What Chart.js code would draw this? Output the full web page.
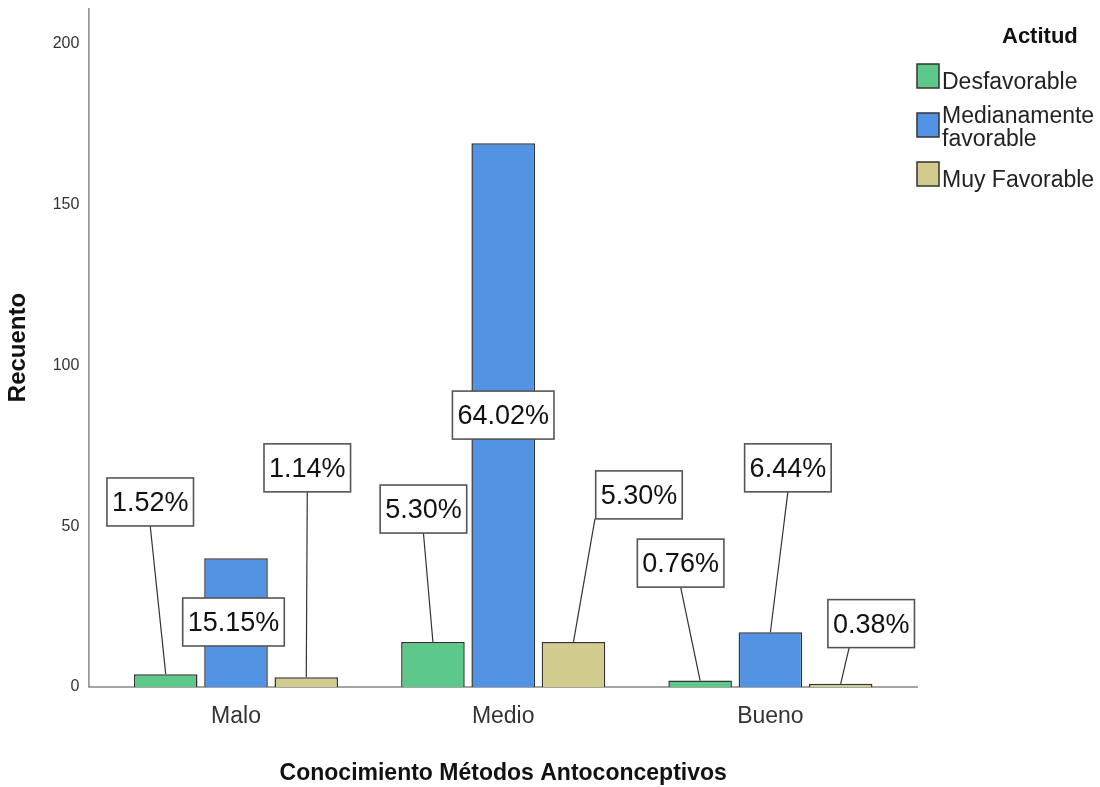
<!DOCTYPE html>
<html><head><meta charset="utf-8">
<script src="https://cdn.jsdelivr.net/npm/chart.js@4.4.1/dist/chart.umd.min.js"></script>
<style>html,body{margin:0;padding:0;background:#fff;}#wrap{width:1100px;height:787px;position:relative;}</style>
</head><body><div id="wrap"><canvas id="c" width="1100" height="787"></canvas></div>
<script>
// ---- data ----
const categories = ['Malo', 'Medio', 'Bueno'];
const seriesNames = ['Desfavorable', 'Medianamente favorable', 'Muy Favorable'];
const desfavorable = [4, 14, 2];
const medianamente = [40, 169, 17];
const muyFavorable = [3, 14, 1];
const pctDesfavorable = ['1.52%', '5.30%', '0.76%'];
const pctMedianamente = ['15.15%', '64.02%', '6.44%'];
const pctMuyFavorable = ['1.14%', '5.30%', '0.38%'];
const yTicks = [0, 50, 100, 150, 200];
const xTitle = 'Conocimiento Métodos Antoconceptivos';
const yTitle = 'Recuento';
const legendTitle = 'Actitud';

// ---- layout / style ----
const colors = ['#5cc98b', '#5294e3', '#d1cb8e'];
// callout placement per series, per category: [dx from bar centre (px), box centre (value units), line anchor dx on box bottom or null]
const labelLayout = [
  [[-15.5, 57.5, 0], [-9.5, 55.3, 0], [-19.5, 38.5, 0]],
  [[-2.5, 20.2, null], [0, 84.5, null], [17.5, 68.1, 0]],
  [[1, 68.1, 0], [65.5, 59.7, -44], [30.5, 19.7, -22]]
];

function fontAvailable(name) {
  const c = document.createElement('canvas').getContext('2d');
  const t = 'Malo Medio Bueno 0123456789 Recuento';
  return ['monospace', 'serif'].some(fb => {
    c.font = '40px ' + fb; const a = c.measureText(t).width;
    c.font = '40px "' + name + '", ' + fb; const b = c.measureText(t).width;
    return Math.abs(a - b) > 0.5;
  });
}
const NARROW = fontAvailable('Liberation Sans Narrow');
const AXF = NARROW ? '"Liberation Sans Narrow", "Liberation Sans", Arial, sans-serif' : '"Liberation Sans", Arial, sans-serif';
const k = NARROW ? 1.2 : 1;
const BASEF = '"Liberation Sans", Arial, sans-serif';

const axisPlugin = {
  id: 'axisLines',
  beforeDatasetsDraw(chart) {
    const {ctx, chartArea: a} = chart;
    ctx.save();
    ctx.strokeStyle = '#888';
    ctx.lineWidth = 1.5;
    const x0 = a.left - 13.5, x1 = a.right + 14;
    ctx.beginPath();
    ctx.moveTo(x0, a.top); ctx.lineTo(x0, a.bottom); ctx.lineTo(x1, a.bottom);
    ctx.stroke();
    ctx.restore();
  }
};

const calloutPlugin = {
  id: 'callouts',
  afterDatasetsDraw(chart) {
    const ctx = chart.ctx, ys = chart.scales.y;
    ctx.save();
    ctx.font = '27px ' + BASEF;
    chart.data.datasets.forEach((ds, di) => {
      const meta = chart.getDatasetMeta(di);
      meta.data.forEach((bar, ci) => {
        const [dx, val, anchor] = labelLayout[di][ci];
        const text = ds.pctLabels[ci];
        const cx = bar.x + dx, cy = ys.getPixelForValue(val);
        const w = ctx.measureText(text).width + 10, h = 48;
        if (anchor !== null) {
          ctx.beginPath();
          ctx.moveTo(cx + anchor, cy + h / 2);
          ctx.lineTo(bar.x, bar.y);
          ctx.strokeStyle = '#333'; ctx.lineWidth = 1.2; ctx.stroke();
        }
        ctx.fillStyle = '#fff';
        ctx.fillRect(cx - w / 2, cy - h / 2, w, h);
        ctx.strokeStyle = '#555'; ctx.lineWidth = 1.6;
        ctx.strokeRect(cx - w / 2, cy - h / 2, w, h);
        ctx.fillStyle = '#111'; ctx.textAlign = 'center'; ctx.textBaseline = 'middle';
        ctx.fillText(text, cx, cy + 1.5);
      });
    });
    ctx.restore();
  }
};

const legendPlugin = {
  id: 'customLegend',
  afterDraw(chart) {
    const ctx = chart.ctx;
    ctx.save();
    ctx.fillStyle = '#111';
    ctx.font = 'bold 22px ' + BASEF;
    ctx.textAlign = 'left'; ctx.textBaseline = 'alphabetic';
    ctx.fillText(legendTitle, 1002, 43);
    ctx.font = '23px ' + BASEF;
    const boxX = 917, textX = 942, maxW = 160, lineH = 23, boxW = 22, boxH = 24;
    let top = 64;
    chart.data.datasets.forEach((ds) => {
      const words = ds.label.split(' ');
      const lines = []; let cur = '';
      words.forEach(wd => {
        const t = cur ? cur + ' ' + wd : wd;
        if (cur && ctx.measureText(t).width > maxW) { lines.push(cur); cur = wd; } else cur = t;
      });
      lines.push(cur);
      ctx.fillStyle = ds.backgroundColor;
      ctx.fillRect(boxX, top, boxW, boxH);
      ctx.strokeStyle = '#333'; ctx.lineWidth = 1.5;
      ctx.strokeRect(boxX, top, boxW, boxH);
      ctx.fillStyle = '#222';
      const firstBase = lines.length > 1 ? top + 10 : top + 25;
      lines.forEach((ln, li) => ctx.fillText(ln, textX, firstBase + li * lineH));
      top += 49;
    });
    ctx.restore();
  }
};

new Chart(document.getElementById('c').getContext('2d'), {
  type: 'bar',
  data: {
    labels: categories,
    datasets: [
      {label: seriesNames[0], data: desfavorable, backgroundColor: colors[0], pctLabels: pctDesfavorable},
      {label: seriesNames[1], data: medianamente, backgroundColor: colors[1], pctLabels: pctMedianamente},
      {label: seriesNames[2], data: muyFavorable, backgroundColor: colors[2], pctLabels: pctMuyFavorable}
    ]
  },
  options: {
    responsive: false,
    animation: false,
    devicePixelRatio: 1,
    layout: {padding: {left: 0, right: 196, top: 8, bottom: 0}},
    datasets: {bar: {categoryPercentage: 0.789, barPercentage: 0.905, borderColor: '#333', borderWidth: 1.5}},
    plugins: {legend: {display: false}, tooltip: {enabled: false}},
    scales: {
      x: {
        grid: {display: false, drawTicks: false},
        border: {display: false},
        ticks: {font: {family: AXF, size: 23 * k}, color: '#333', padding: 16, maxRotation: 0, autoSkip: false},
        title: {display: true, text: xTitle, font: {family: AXF, size: 23 * k, weight: 'bold'}, color: '#111', padding: {top: 0, bottom: 0}},
        afterFit(s) { s.height = 100; s.paddingLeft = 0; s.paddingRight = 0; }
      },
      y: {
        min: 0, max: 211,
        grid: {display: false, drawTicks: false},
        border: {display: false},
        afterBuildTicks(s) { s.ticks = yTicks.map(v => ({value: v})); },
        ticks: {font: {family: AXF, size: 16 * k}, color: '#333', padding: 23},
        title: {display: true, text: yTitle, font: {family: AXF, size: 24 * k, weight: 'bold'}, color: '#111', padding: {top: 4, bottom: 0}},
        afterFit(s) { s.width = 102.4; s.paddingTop = 0; s.paddingBottom = 0; }
      }
    }
  },
  plugins: [axisPlugin, calloutPlugin, legendPlugin]
});
</script>
</body></html>
